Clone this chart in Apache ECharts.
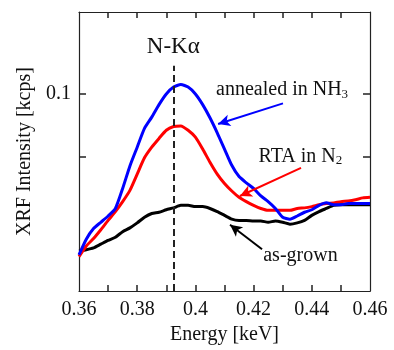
<!DOCTYPE html>
<html>
<head>
<meta charset="utf-8">
<script src="https://cdn.jsdelivr.net/npm/echarts@6/dist/echarts.min.js"></script>
<style>
  html, body { margin: 0; padding: 0; background: #fff; }
  #chart { width: 394px; height: 350px; }
</style>
</head>
<body>
<div id="chart"></div>
<script>
// energy grid [keV]
const energy = [
  0.36, 0.3625, 0.365, 0.3675, 0.37, 0.3725, 0.375, 0.3775, 0.38, 0.3825,
  0.385, 0.3875, 0.39, 0.3925, 0.395, 0.3975, 0.4, 0.4025, 0.405, 0.4075,
  0.41, 0.4125, 0.415, 0.4175, 0.42, 0.4225, 0.425, 0.4275, 0.43, 0.4325,
  0.435, 0.4375, 0.44, 0.4425, 0.445, 0.4475, 0.45, 0.4525, 0.455, 0.4575, 0.46,
];

// intensities in cps (axis label shows kcps)
const annealedNH3 = [
  74.3, 76.8, 78.5, 79.5, 80.5, 81.7, 84.9, 88.5, 91.5, 94.5,
  96.3, 98.3, 100.0, 101.1, 101.5, 101.1, 100.0, 98.3, 96.2, 93.8,
  91.2, 88.6, 86.8, 85.8, 84.9, 83.7, 82.8, 81.7, 80.3, 80.0,
  80.5, 81.1, 81.5, 82.2, 82.6, 82.3, 82.3, 82.5, 82.5, 82.5, 82.5,
];
const rtaN2 = [
  74.0, 75.7, 76.9, 78.3, 79.8, 81.2, 82.8, 84.6, 87.2, 89.8,
  91.5, 92.9, 94.2, 94.8, 94.9, 94.2, 93.1, 91.2, 89.1, 87.2,
  85.7, 84.5, 83.5, 82.8, 82.2, 81.7, 81.4, 81.4, 81.4, 81.4,
  81.7, 81.8, 82.0, 82.3, 82.5, 82.6, 82.8, 82.9, 83.1, 83.4, 83.5,
];
const asGrown = [
  74.9, 75.1, 75.4, 76.0, 76.6, 77.1, 78.0, 78.6, 79.4, 80.3,
  80.9, 81.1, 81.5, 81.8, 82.2, 82.2, 82.0, 82.0, 81.7, 81.2,
  80.6, 80.0, 79.8, 79.8, 79.7, 79.7, 79.5, 79.7, 79.5, 79.2,
  79.4, 79.8, 80.6, 81.2, 81.7, 82.2, 82.3, 82.3, 82.3, 82.3, 82.3,
];

const nKalpha = 0.3924;
const xTicks = [0.37, 0.38, 0.39, 0.4, 0.41, 0.42, 0.43, 0.44, 0.45];
const xLabels = [0.36, 0.38, 0.4, 0.42, 0.44, 0.46];
const yTicks = [90, 100];
const yLabels = [100];

const FONT = "'Liberation Serif', 'DejaVu Serif', serif";
const AX = "#222";
const el = document.getElementById("chart");
const chart = echarts.init(el, null, { renderer: "canvas" });

const pair = (x, y) => x.map((e, i) => [e, y[i]]);

function arrow(from, to, color) {
  return [
    { coord: from, symbol: "none", lineStyle: { color, width: 2, type: "solid" } },
    { coord: to, symbol: "arrow", symbolSize: [9, 12] },
  ];
}

function note(coord, text, size) {
  return {
    coord,
    symbol: "circle",
    symbolSize: 0,
    label: {
      show: true,
      position: "inside",
      formatter: text,
      fontFamily: FONT,
      fontSize: size,
      color: "#111",
      rich: {
        sub: { fontFamily: FONT, fontSize: 13, color: "#111", padding: [9, 0, 0, 0] },
      },
    },
  };
}

// fresh objects for each axis so nothing is shared between them
function xAxisBase(position) {
  return {
    type: "value",
    position,
    min: 0.36,
    max: 0.46,
    interval: 0.02,
    axisLine: { show: true, onZero: false, lineStyle: { color: AX, width: 1.2 } },
    axisTick: {
      show: true,
      inside: true,
      length: 6,
      customValues: xTicks.slice(),
      lineStyle: { color: AX, width: 1.5 },
    },
    splitLine: { show: false },
  };
}
function yAxisBase(position) {
  return {
    type: "value",
    position,
    min: 68.5,
    max: 113.1,
    axisLine: { show: true, onZero: false, lineStyle: { color: AX, width: 1.2 } },
    axisTick: {
      show: true,
      inside: true,
      length: 7,
      customValues: yTicks.slice(),
      lineStyle: { color: AX, width: 1.5 },
    },
    splitLine: { show: false },
  };
}

chart.setOption({
  animation: false,
  backgroundColor: "#fff",
  textStyle: { fontFamily: FONT },
  grid: { left: 79, right: 24, top: 12, bottom: 48 },
  xAxis: [
    {
      ...xAxisBase("bottom"),
      name: "Energy [keV]",
      nameLocation: "middle",
      nameGap: 26,
      nameTextStyle: { fontFamily: FONT, fontSize: 20, color: "#111" },
      axisLabel: {
        customValues: xLabels,
        formatter: (v) => String(+v.toFixed(2)),
        fontFamily: FONT,
        fontSize: 20,
        color: "#111",
        margin: 9,
      },
    },
    { ...xAxisBase("top"), axisLabel: { show: false } },
  ],
  yAxis: [
    {
      ...yAxisBase("left"),
      name: "XRF Intensity [kcps]",
      nameLocation: "middle",
      nameGap: 43,
      nameTextStyle: { fontFamily: FONT, fontSize: 20, color: "#111" },
      axisLabel: {
        customValues: yLabels,
        formatter: (v) => String(v / 1000),
        fontFamily: FONT,
        fontSize: 20,
        color: "#111",
        margin: 8,
      },
    },
    { ...yAxisBase("right"), axisLabel: { show: false } },
  ],
  series: [
    {
      type: "line",
      name: "as-grown",
      data: pair(energy, asGrown),
      symbol: "none",
      smooth: 0.2,
      lineStyle: { color: "#000", width: 3 },
      markLine: {
        silent: true,
        label: { show: false },
        data: [
          [
            { coord: [nKalpha, 68.5], symbol: "none", lineStyle: { color: "#222", width: 2, type: [7, 4] } },
            { coord: [nKalpha, 104.5], symbol: "none" },
          ],
          arrow([0.4229, 75.2], [0.4119, 79.1], "#000"),
        ],
      },
      markPoint: {
        silent: true,
        data: [note([nKalpha, 107.5], "N-Kα", 23), note([0.4361, 74.2], "as-grown", 20)],
      },
    },
    {
      type: "line",
      name: "RTA in N2",
      data: pair(energy, rtaN2),
      symbol: "none",
      smooth: 0.2,
      lineStyle: { color: "#ff0000", width: 3 },
      markLine: {
        silent: true,
        label: { show: false },
        data: [arrow([0.4363, 88.2], [0.4153, 83.7], "#ff0000")],
      },
      markPoint: {
        silent: true,
        data: [note([0.4361, 90.0], "RTA in N{sub|2}", 20)],
      },
    },
    {
      type: "line",
      name: "annealed in NH3",
      data: pair(energy, annealedNH3),
      symbol: "none",
      smooth: 0.2,
      lineStyle: { color: "#0000ff", width: 3 },
      markLine: {
        silent: true,
        label: { show: false },
        data: [arrow([0.4301, 98.5], [0.4078, 95.2], "#0000ff")],
      },
      markPoint: {
        silent: true,
        data: [note([0.4298, 100.6], "annealed in NH{sub|3}", 20)],
      },
    },
  ],
});
</script>
</body>
</html>
